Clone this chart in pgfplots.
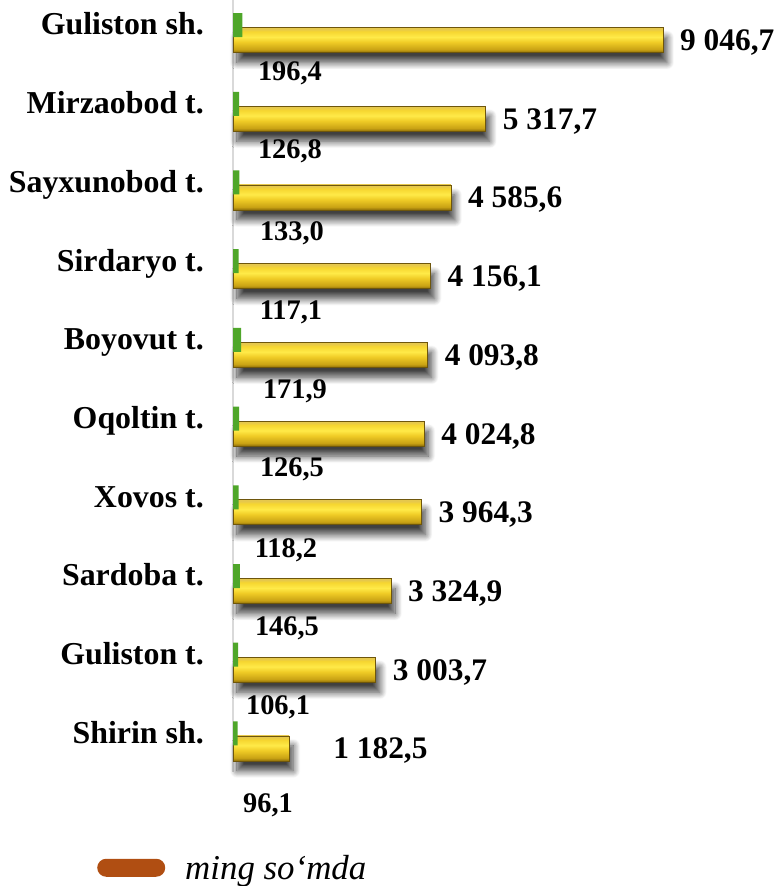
\documentclass[border=0pt]{standalone}
\usepackage{pgfplots}
\pgfplotsset{compat=1.18}
\usepackage{fontspec}
\setmainfont{Liberation Serif}
\usetikzlibrary{shadows.blur}
\definecolor{barGreen}{HTML}{4FA62A}
\definecolor{goldDark}{HTML}{8E6E08}
\definecolor{goldLow}{HTML}{C9A214}
\definecolor{goldMid}{HTML}{F0CC26}
\definecolor{goldBright}{HTML}{FFEA48}
\definecolor{goldUp}{HTML}{F6D630}
\definecolor{goldTop}{HTML}{E6C84C}
\definecolor{goldEdge}{HTML}{6E560C}
\definecolor{legBrown}{HTML}{B04E12}
\pgfdeclareverticalshading{goldbar}{100bp}{color(0bp)=(goldDark); color(25bp)=(goldDark); color(31bp)=(goldLow); color(46bp)=(goldMid); color(56bp)=(goldBright); color(67bp)=(goldUp); color(72bp)=(goldTop); color(75bp)=(goldTop); color(100bp)=(goldTop)}
\pgfplotsset{
  goldbar/.style={forget plot, xbar, bar width=25bp, bar shift=0pt, draw=goldEdge, line width=0.6bp,
    shade, shading=goldbar,
    blur shadow={shadow xshift=4bp, shadow yshift=-10bp, shadow blur steps=12, shadow blur radius=7bp, shadow opacity=75}},
}

\begin{document}
\begin{tikzpicture}
\useasboundingbox (0,0) rectangle (777bp,-886bp);
\begin{axis}[
  at={(233bp,0bp)}, anchor=north west,
  scale only axis, width=523bp, height=772bp,
  xmin=0, xmax=11004, ymin=-0.508, ymax=9.30, y dir=reverse,
  clip=false,
  axis line style={draw=none},
  xtick=\empty,
  extra x ticks={0}, extra x tick labels={},
  extra x tick style={grid=major, major grid style={draw=black!15, line width=1.5bp}},
  ytick={0,1,2,3,4,5,6,7,8,9},
  yticklabels={Guliston sh., Mirzaobod t., Sayxunobod t., Sirdaryo t., Boyovut t., Oqoltin t., Xovos t., Sardoba t., Guliston t., Shirin sh.},
  major tick length=0pt,
  yticklabel style={anchor=base east, inner sep=0pt, xshift=-29bp, yshift=5bp, font=\fontsize{32}{36}\selectfont\bfseries},
  legend style={draw=none, fill=none, inner sep=0pt, at={(-0.26,-0.124)}, anchor=west,
    font=\fontsize{35}{40}\selectfont\itshape, nodes={inner sep=0pt}},
  legend cell align=left,
]
\addlegendimage{draw=none, legend image code/.code={\fill[legBrown, rounded corners=9bp] (0bp,-9bp) rectangle (68bp,9bp); \path[draw=none] (0bp,0bp) -- (88bp,0bp);}}
\addlegendentry{ming so‘mda}

\addplot[goldbar] coordinates {(9046.7,0)};
\addplot[goldbar] coordinates {(5317.7,1)};
\addplot[goldbar] coordinates {(4585.6,2)};
\addplot[goldbar] coordinates {(4156.1,3)};
\addplot[goldbar] coordinates {(4093.8,4)};
\addplot[goldbar] coordinates {(4024.8,5)};
\addplot[goldbar] coordinates {(3964.3,6)};
\addplot[goldbar] coordinates {(3324.9,7)};
\addplot[goldbar] coordinates {(3003.7,8)};
\addplot[goldbar] coordinates {(1182.5,9)};

\addplot[forget plot, xbar, bar width=24bp, bar shift=0pt, draw=none, fill=barGreen]
  table {
x y
196.4 -0.19
126.8 0.81
133.0 1.81
117.1 2.81
171.9 3.81
126.5 4.81
118.2 5.81
146.5 6.81
106.1 7.81
96.1 8.81
};

\addplot[forget plot, draw=none, mark=none, nodes near coords, point meta=explicit symbolic,
  nodes near coords style={anchor=base west, inner sep=0pt, xshift=17bp, yshift=-10.5bp,
    font=\fontsize{31.5}{36}\selectfont\bfseries, text=black}]
  table[meta=lab] {
x y lab
9046.7 0 {9 046,7}
5317.7 1 {5 317,7}
4585.6 2 {4 585,6}
4156.1 3 {4 156,1}
4093.8 4 {4 093,8}
4024.8 5 {4 024,8}
3964.3 6 {3 964,3}
3324.9 7 {3 324,9}
3003.7 8 {3 003,7}
1750.5 9 {1 182,5}
};

\addplot[forget plot, draw=none, mark=none, nodes near coords, point meta=explicit symbolic,
  nodes near coords style={anchor=base, inner sep=0pt,
    font=\fontsize{28.5}{34}\selectfont\bfseries, text=black}]
  table[meta=lab] {
x y lab
1199 0.51 {196,4}
1199 1.51 {126,8}
1241 2.55 {133,0}
1220 3.55 {117,1}
1304 4.55 {171,9}
1241 5.55 {126,5}
1115 6.57 {118,2}
1136 7.57 {146,5}
947 8.57 {106,1}
736 9.81 {96,1}
};
\end{axis}
\end{tikzpicture}
\end{document}
